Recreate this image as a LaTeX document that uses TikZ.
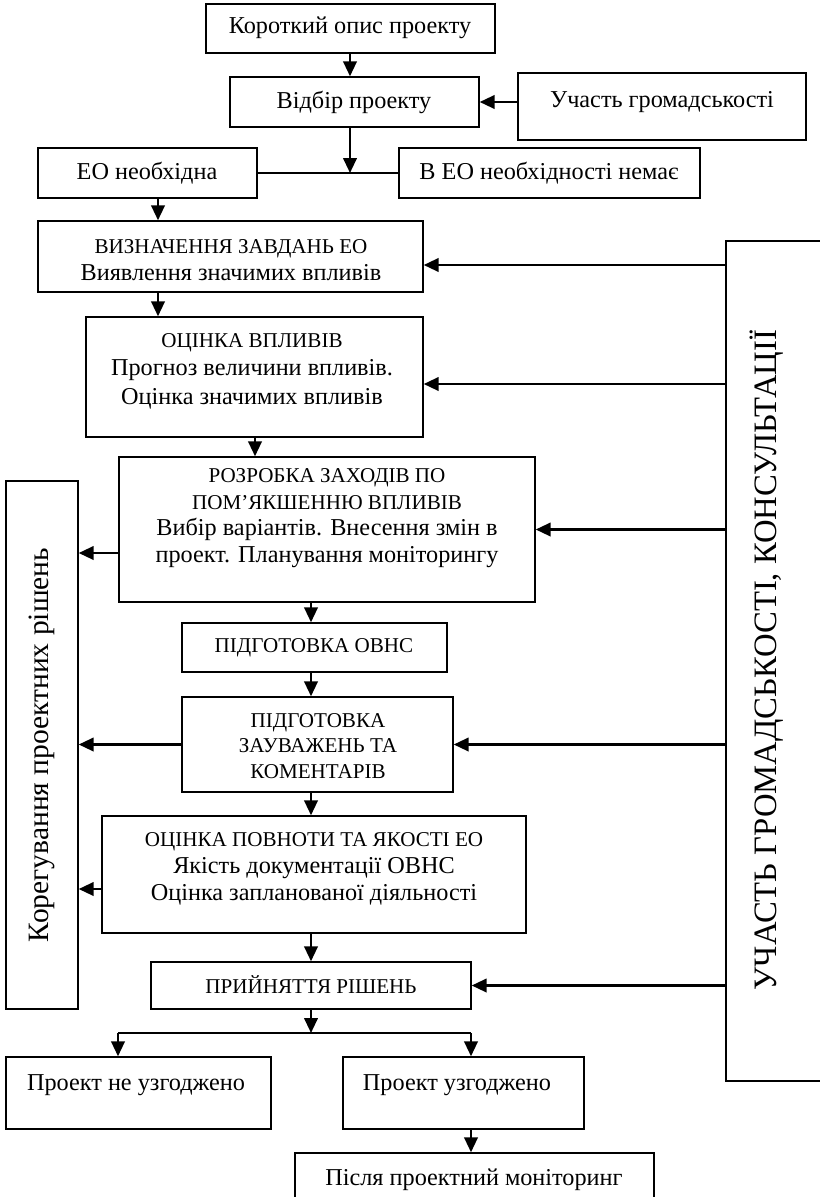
\documentclass[tikz,border=0pt]{standalone}
\usepackage{fontspec}
\setmainfont{Liberation Serif}
\usetikzlibrary{arrows.meta}
\newcommand{\capsz}{\fontsize{12}{14.5}\selectfont}

\begin{document}
\begin{tikzpicture}[x=0.02cm,y=-0.02cm,>={Triangle[length=0.3cm,width=0.27cm]},
blok/.style 2 args={draw,line width=0.8pt,rectangle,inner sep=0pt,minimum width=#1*0.02cm,minimum height=#2*0.02cm},
txt/.style={align=center,inner sep=0pt,font=\fontsize{13.8}{15.2}\selectfont},
arr/.style={->,line width=1.4pt},lin/.style={line width=1.4pt}]

\path[use as bounding box] (0,0) rectangle (820,1197);
\clip (0,0) rectangle (820,1197);

% columns and rows of the connectors
\coordinate (k1) at (158,0);
\coordinate (k2) at (350,0);
\coordinate (k3) at (311,0);
\coordinate (k4) at (471,0);
\coordinate (k5) at (118,0);
\coordinate (k6) at (255,0);
\coordinate (r1) at (0,265);
\coordinate (r2) at (0,384);
\coordinate (r3) at (0,553);
\coordinate (r4) at (0,889);
\coordinate (fork) at (311,1033);

% Boxes
\node[blok={289}{49}] (opys) at (350.5,28.5) {};
\node[txt] (opys-t) at (350,28) {Короткий опис проекту};

\node[blok={249}{50}] (vidbir) at (354.5,102) {};
\node[txt] (vidbir-t) at (354,102) {Відбір проекту};

\node[blok={288}{67}] (uchast) at (662,106.5) {};
\node[txt] (uchast-t) at (662,102) {Участь громадськості};

\node[blok={219}{50}] (eo) at (147.5,173) {};
\node[txt] (eo-t) at (147,173) {ЕО необхідна};

\node[blok={301}{50}] (noeo) at (549.5,173) {};
\node[txt] (noeo-t) at (549,173) {В ЕО необхідності немає};

\node[blok={385}{71}] (vyzn) at (230.5,256.5) {};
\node[txt] (vyzn-t) at (231,260) {{\capsz ВИЗНАЧЕННЯ ЗАВДАНЬ ЕО}\\Виявлення значимих впливів};

\node[blok={337}{120}] (ocinka) at (254.5,377) {};
\node[txt,font=\fontsize{13.8}{16.2}\selectfont] (ocinka-t) at (252,371) {{\capsz ОЦІНКА ВПЛИВІВ}\\Прогноз величини впливів.\\Оцінка значимих впливів};

\node[blok={416}{145}] (rozrobka) at (327,529.5) {};
\node[txt] (rozrobka-t) at (327,518) {{\capsz РОЗРОБКА ЗАХОДІВ ПО}\\{\capsz ПОМ’ЯКШЕННЮ ВПЛИВІВ}\\Вибір варіантів. Внесення змін в\\проект. Планування моніторингу};

\node[blok={265}{49}] (ovns) at (314.5,647.5) {};
\node[txt,font=\capsz] (ovns-t) at (314,648) {ПІДГОТОВКА ОВНС};

\node[blok={271}{95}] (zauv) at (317.5,744.5) {};
\node[txt,font=\capsz] (zauv-t) at (318,746) {ПІДГОТОВКА\\ЗАУВАЖЕНЬ ТА\\КОМЕНТАРІВ};

\node[blok={424}{117}] (povnota) at (314,874.5) {};
\node[txt] (povnota-t) at (314,869) {{\capsz ОЦІНКА ПОВНОТИ ТА ЯКОСТІ ЕО}\\Якість документації ОВНС\\Оцінка запланованої діяльності};

\node[blok={320}{47}] (rishennia) at (311,985.5) {};
\node[txt,font=\capsz] (rishennia-t) at (311,985) {ПРИЙНЯТТЯ РІШЕНЬ};

\node[blok={265}{72}] (neuzg) at (138.5,1093) {};
\node[txt] (neuzg-t) at (136,1085) {Проект не узгоджено};

\node[blok={241}{72}] (uzg) at (463.5,1093) {};
\node[txt] (uzg-t) at (457,1085) {Проект узгоджено};

\node[blok={359}{60}] (monitor) at (474.5,1183) {};
\node[txt] (monitor-t) at (474,1180) {Після проектний моніторинг};

% Side boxes
\node[blok={72}{528}] (koryg) at (42,745) {};
\node[txt,rotate=90,font=\fontsize{16.8}{20}\selectfont] (koryg-t) at (42,745) {Корегування проектних рішень};

\node[blok={114}{840}] (konsult) at (783,661) {};
\node[txt,rotate=90,font=\fontsize{18.6}{22}\selectfont] (konsult-t) at (767,660) {УЧАСТЬ ГРОМАДСЬКОСТІ, КОНСУЛЬТАЦІЇ};

% Arrows down the middle
\draw[arr] (k2 |- opys.south) -- (k2 |- vidbir.north);
\draw[arr] (uchast.west |- vidbir.east) -- (vidbir.east);
\draw[arr] (k2 |- vidbir.south) -- (k2 |- eo.east);
\draw[lin] (eo.east) -- (noeo.west);
\draw[arr] (k1 |- eo.south) -- (k1 |- vyzn.north);
\draw[arr] (k1 |- vyzn.south) -- (k1 |- ocinka.north);
\draw[arr] (k6 |- ocinka.south) -- (k6 |- rozrobka.north);
\draw[arr] (k3 |- rozrobka.south) -- (k3 |- ovns.north);
\draw[arr] (k3 |- ovns.south) -- (k3 |- zauv.north);
\draw[arr] (k3 |- zauv.south) -- (k3 |- povnota.north);
\draw[arr] (k3 |- povnota.south) -- (k3 |- rishennia.north);
\draw[arr] (k3 |- rishennia.south) -- (fork);
\draw[lin] (k5 |- fork) -- (k4 |- fork);
\draw[arr] (k5 |- fork) -- (k5 |- neuzg.north);
\draw[arr] (k4 |- fork) -- (k4 |- uzg.north);
\draw[arr] (k4 |- uzg.south) -- (k4 |- monitor.north);

% from the right box
\draw[arr] (konsult.west |- r1) -- (vyzn.east |- r1);
\draw[arr] (konsult.west |- r2) -- (ocinka.east |- r2);
\draw[arr] (konsult.west |- rozrobka.east) -- (rozrobka.east);
\draw[arr] (konsult.west |- zauv.east) -- (zauv.east);
\draw[arr] (konsult.west |- rishennia.east) -- (rishennia.east);

% to the left box
\draw[arr] (rozrobka.west |- r3) -- (koryg.east |- r3);
\draw[arr] (zauv.west) -- (koryg.east |- zauv.west);
\draw[arr] (povnota.west |- r4) -- (koryg.east |- r4);
\end{tikzpicture}
\end{document}
